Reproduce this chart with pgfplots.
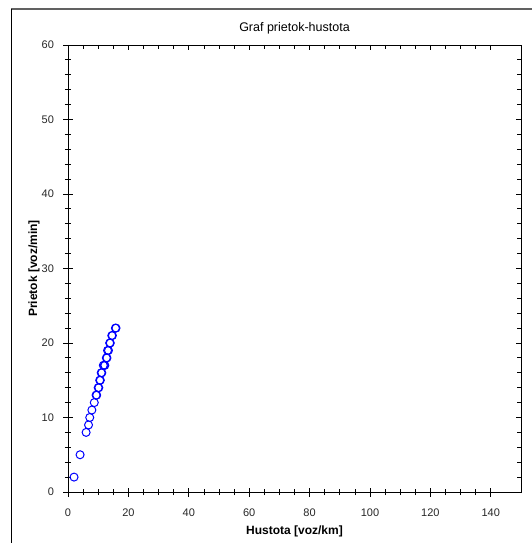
\documentclass[border=0pt]{standalone}
\usepackage{fontspec}
\setmainfont{Liberation Sans}
\usepackage{pgfplots}
\pgfplotsset{compat=1.18}
\begin{document}
\begin{tikzpicture}[x=1pt,y=1pt]
\useasboundingbox (0,0) rectangle (532,543);
\draw[line width=2pt, color=black!62] (11,534) -- (532,534);
\draw[line width=1pt, color=black] (11,534) -- (11,0);
\pgfplotsset{
  common/.style={
    at={(68pt,51pt)}, anchor=south west,
    scale only axis, width=453pt, height=447pt,
    xmin=0, xmax=150, ymin=0, ymax=60,
    xtick={0,20,...,140}, ytick={0,10,...,60},
    minor x tick num=3, minor y tick num=4,
    axis line style={line width=0.9pt, black},
    major tick style={line width=0.8pt, black},
    minor tick style={line width=0.8pt, black},
  }
}
\begin{axis}[common,
  xtick pos=lower, ytick pos=left, tick align=center,
  major tick length=9pt, minor tick length=6pt,
  /pgf/number format/assume math mode=true,
  tick label style={font=\fontsize{11}{13}\selectfont, color=black!85},
  xticklabel style={yshift=-9pt},
  yticklabel style={xshift=-6pt},
  title={Graf prietok-hustota},
  title style={font=\fontsize{12.5}{14}\selectfont, at={(0.5,1)}, anchor=base, yshift=7pt},
  xlabel={Hustota [voz/km]},
  xlabel style={font=\bfseries\fontsize{12}{14}\selectfont, at={(0.5,0)}, anchor=base, yshift=-42pt},
  ylabel={Prietok [voz/min]},
  ylabel style={font=\bfseries\fontsize{12}{14}\selectfont, at={(0,0.5)}, anchor=center, yshift=34pt},
]
\addplot[only marks, mark=o, mark size=4pt, color={rgb,255:red,0;green,0;blue,255}, mark options={line width=1pt}] coordinates {
(2.0,2) (4.0,5) (6.0,8) (6.8,9) (7.2,10) (7.9,11) (8.7,12) (9.3,13) (9.5,13)
(10.0,14) (10.2,14) (10.5,15) (10.7,15) (11.0,16) (11.2,16) (11.7,17) (12.0,17)
(12.2,17) (12.7,18) (12.9,18) (13.1,19) (13.4,19) (13.8,20) (14.0,20) (14.5,21)
(14.7,21) (15.7,22) (15.9,22)
};
\end{axis}
\begin{axis}[common,
  xtick pos=upper, ytick pos=right, tick align=inside,
  major tick length=5pt, minor tick length=4pt,
  xticklabels={}, yticklabels={},
]
\end{axis}
\end{tikzpicture}
\end{document}
